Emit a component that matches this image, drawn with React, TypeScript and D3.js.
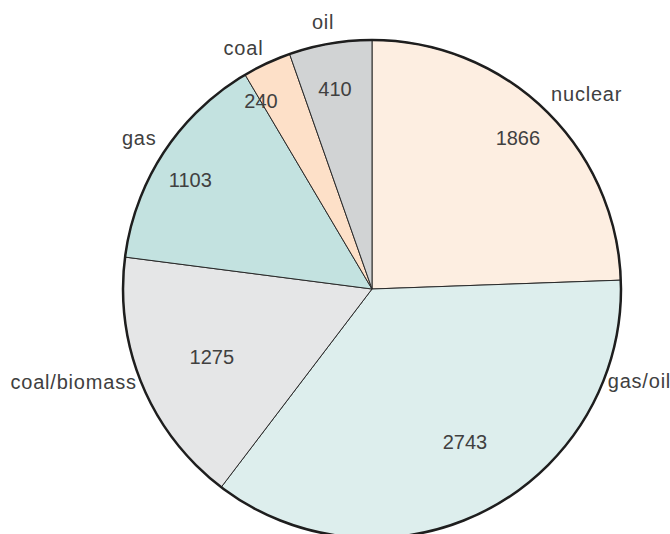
import React from "react";
import * as d3 from "d3";

// Electricity generation by fuel
const categories = ["nuclear", "gas/oil", "coal/biomass", "gas", "coal", "oil"];
const values = [1866, 2743, 1275, 1103, 240, 410];
const colors = ["#fdeee1", "#ddeeed", "#e5e6e7", "#c3e2e0", "#fde0c8", "#d1d3d4"];

// Label placement (polar: degrees clockwise from 12 o'clock, distance from centre)
const nameAngle = [42.5, 111.3, 248.4, 305.0, 335.7, 349.6];
const nameRadius = [265, 253, 253, 263, 264, 271];
const nameAnchor = ["start", "start", "end", "end", "end", "middle"];
const valueAngle = [44, 148.7, 247, 301, 329.4, 349.5];
const valueRadius = [210, 179, 174, 212, 218, 203];

const W = 670;
const H = 534;
const cx = 372;
const cy = 289;
const R = 249;

const polar = (deg: number, r: number): [number, number] => {
  const a = (deg * Math.PI) / 180;
  return [r * Math.sin(a), -r * Math.cos(a)];
};

export default function App() {
  const data = categories.map((c, i) => ({ name: c, value: values[i], color: colors[i] }));
  const pie = d3.pie<any>().value((d) => d.value).sort(null);
  const arcs = pie(data);
  const arc = d3.arc<any>().innerRadius(0).outerRadius(R);

  return (
    <svg
      width={W}
      height={H}
      style={{ position: "fixed", left: 0, top: 0, display: "block", background: "#fff" }}
      fontFamily="'Liberation Sans', Arial, Helvetica, sans-serif"
    >
      <g transform={`translate(${cx},${cy})`}>
        {arcs.map((a, i) => (
          <path key={i} d={arc(a) as string} fill={a.data.color} stroke="#2a2a2a" strokeWidth={1} />
        ))}
        <circle r={R} fill="none" stroke="#1e1e1e" strokeWidth={2.5} />
        {arcs.map((a, i) => {
          const [x, y] = polar(valueAngle[i], valueRadius[i]);
          return (
            <text key={"v" + i} x={x} y={y} textAnchor="middle" dominantBaseline="central" fontSize={20} fill="#404040">
              {a.data.value}
            </text>
          );
        })}
        {arcs.map((a, i) => {
          const [x, y] = polar(nameAngle[i], nameRadius[i]);
          return (
            <text key={"n" + i} x={x} y={y} textAnchor={nameAnchor[i] as any} dominantBaseline="central" fontSize={20} letterSpacing={0.8} fill="#404040">
              {a.data.name}
            </text>
          );
        })}
      </g>
    </svg>
  );
}
